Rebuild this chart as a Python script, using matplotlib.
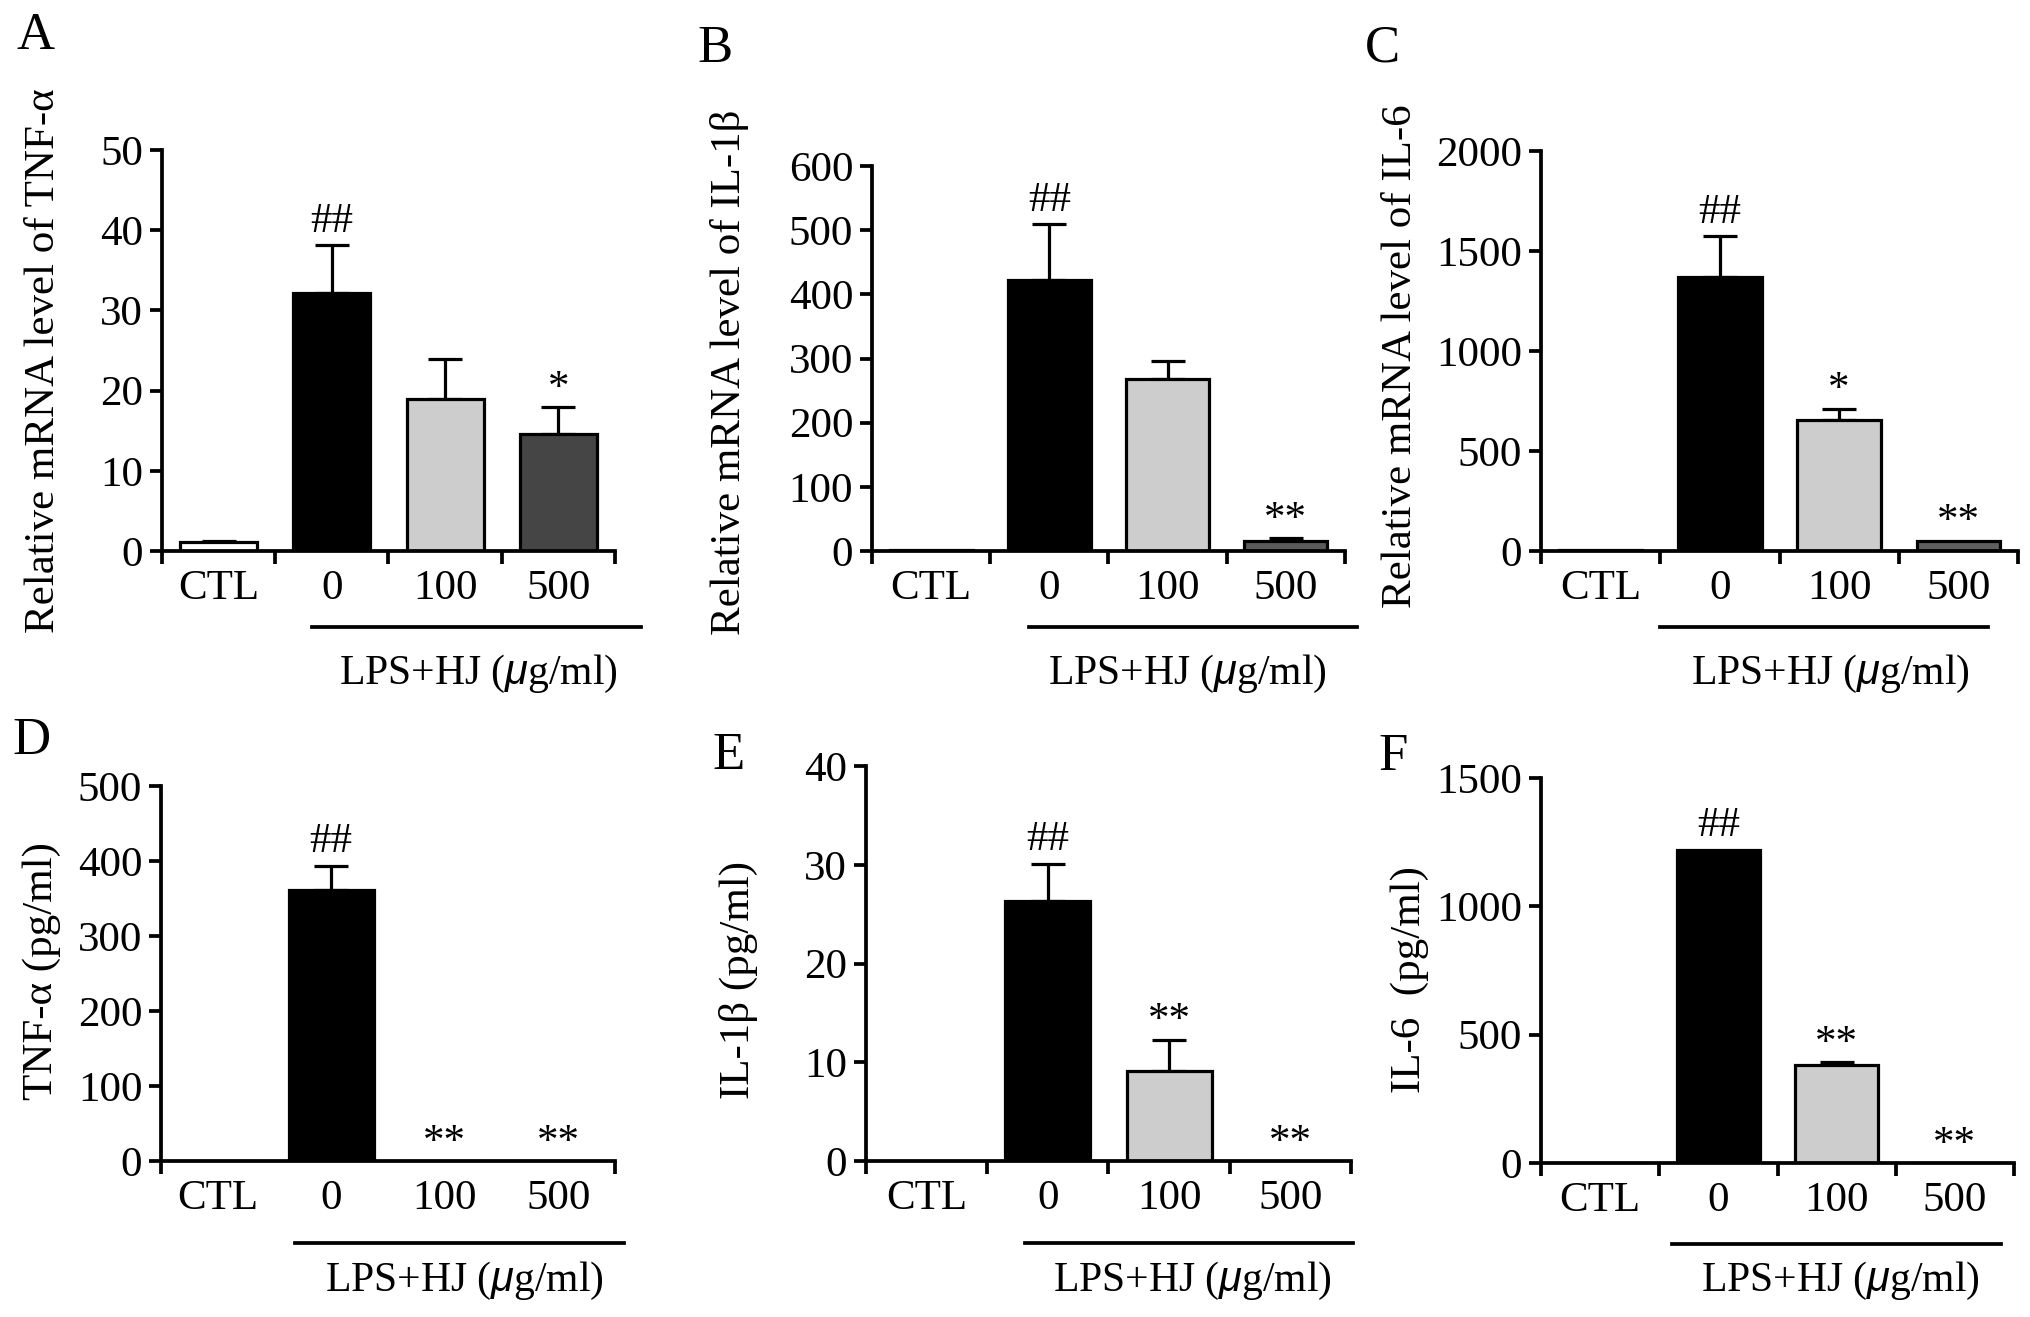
import matplotlib
matplotlib.use("Agg")
import matplotlib.pyplot as plt
from matplotlib.lines import Line2D

plt.rcParams['font.family'] = ['Liberation Serif', 'DejaVu Serif']
plt.rcParams['mathtext.fontset'] = 'custom'
plt.rcParams['mathtext.it'] = 'Liberation Sans:italic'
plt.rcParams['mathtext.rm'] = 'Liberation Serif'

### data

categories = ['CTL', '0', '100', '500']

tnf_mrna = [1.1, 32.2, 19.0, 14.6]
tnf_mrna_err = [0.2, 5.9, 4.9, 3.3]
tnf_mrna_marks = ['', '##', '', '*']

il1b_mrna = [2, 423, 268, 16]
il1b_mrna_err = [0, 86, 28, 3.5]
il1b_mrna_marks = ['', '##', '', '**']

il6_mrna = [5, 1371, 655, 52]
il6_mrna_err = [0, 202, 56, 0]
il6_mrna_marks = ['', '##', '*', '**']

tnf_elisa = [0, 362, 0, 0]
tnf_elisa_err = [0, 32, 0, 0]
tnf_elisa_marks = ['', '##', '**', '**']

il1b_elisa = [0, 26.3, 9.15, 0]
il1b_elisa_err = [0, 3.8, 3.15, 0]
il1b_elisa_marks = ['', '##', '**', '**']

il6_elisa = [0, 1220, 380, 0]
il6_elisa_err = [0, 0, 12, 0]
il6_elisa_marks = ['', '##', '**', '**']

W, H = 2031, 1317
fig = plt.figure(figsize=(W / 100, H / 100), dpi=100)

def px_to_fig(x, y):
    return x / W, 1 - y / H

# panel layout in pixels: axes left, right, top, bottom
panels = [
    dict(letter='A', vals=tnf_mrna, errs=tnf_mrna_err, marks=tnf_mrna_marks,
         ylabel='Relative mRNA level of TNF-α', ymax=50, step=10,
         box=(162, 615, 150, 551), colors=['white', 'black', '#cdcdcd', '#454545'],
         width=0.68, inner=True, lab=(36, 36), ylab=(63, 361),
         line=(312, 641, 627), note=(478, 674)),
    dict(letter='B', vals=il1b_mrna, errs=il1b_mrna_err, marks=il1b_mrna_marks,
         ylabel='Relative mRNA level of IL-1β', ymax=600, step=100,
         box=(872, 1345, 166, 551), colors=['white', 'black', '#cdcdcd', '#5a5a5a'],
         width=0.70, inner=True, lab=(715, 49), ylab=(749, 372),
         line=(1029, 1357, 627), note=(1187, 674)),
    dict(letter='C', vals=il6_mrna, errs=il6_mrna_err, marks=il6_mrna_marks,
         ylabel='Relative mRNA level of IL-6', ymax=2000, step=500,
         box=(1541, 2018, 151, 551), colors=['white', 'black', '#cdcdcd', '#5f5f5f'],
         width=0.70, inner=True, lab=(1382, 48), ylab=(1420, 356),
         line=(1660, 1988, 627), note=(1830, 674)),
    dict(letter='D', vals=tnf_elisa, errs=tnf_elisa_err, marks=tnf_elisa_marks,
         ylabel='TNF-α (pg/ml)', ymax=500, step=100,
         box=(161, 615, 786, 1161), colors=['white', 'black', '#cdcdcd', '#5f5f5f'],
         width=0.75, inner=False, lab=(32, 741), ylab=(61, 971),
         line=(295, 624, 1243), note=(464, 1281)),
    dict(letter='E', vals=il1b_elisa, errs=il1b_elisa_err, marks=il1b_elisa_marks,
         ylabel='IL-1β (pg/ml)', ymax=40, step=10,
         box=(866, 1351, 766, 1161), colors=['white', 'black', '#cdcdcd', '#5f5f5f'],
         width=0.70, inner=True, lab=(729, 756), ylab=(758, 980),
         line=(1025, 1353, 1243), note=(1192, 1281)),
    dict(letter='F', vals=il6_elisa, errs=il6_elisa_err, marks=il6_elisa_marks,
         ylabel='IL-6  (pg/ml)', ymax=1500, step=500,
         box=(1541, 2014, 778, 1163), colors=['white', 'black', '#cdcdcd', '#5f5f5f'],
         width=0.70, inner=True, lab=(1393, 757), ylab=(1429, 980),
         line=(1672, 2001, 1244), note=(1840, 1281)),
]

lw = 2.7
fs = 31
xs = list(range(len(categories)))

for p in panels:
    l, r, t, b = p['box']
    ax = fig.add_axes([l / W, 1 - b / H, (r - l) / W, (b - t) / H])
    ax.bar(xs, p['vals'], width=p['width'], color=p['colors'],
           edgecolor='black', linewidth=2.3, zorder=2)
    ex = [x for x, e in zip(xs, p['errs']) if e > 0]
    ey = [v for v, e in zip(p['vals'], p['errs']) if e > 0]
    ee = [e for e in p['errs'] if e > 0]
    if ex:
        ax.errorbar(ex, ey, yerr=[[0] * len(ee), ee], fmt='none', ecolor='black',
                    elinewidth=2.3, capsize=12, capthick=2.3, zorder=1)
    for x, v, e, m in zip(xs, p['vals'], p['errs'], p['marks']):
        if not m:
            continue
        off = 10 if m.startswith('#') else 6
        ax.annotate(m, (x, v + e), xytext=(0, off), textcoords='offset points',
                    ha='center', va='baseline', fontsize=31)

    ax.set_xlim(-0.5, 3.5)
    ax.set_ylim(0, p['ymax'])
    ax.set_yticks(range(0, p['ymax'] + 1, p['step']))
    if p['inner']:
        ax.set_xticks([-0.5, 0.5, 1.5, 2.5, 3.5])
    else:
        ax.set_xticks([-0.5, 3.5])
    ax.set_xticklabels([])
    ax.set_xticks(xs, minor=True)
    ax.set_xticklabels(categories, minor=True)
    ax.tick_params(axis='x', which='minor', length=0, pad=13, labelsize=fs)
    ax.tick_params(axis='x', which='major', length=9.5, width=lw, direction='out')
    ax.tick_params(axis='y', length=8.5, width=lw, pad=5, labelsize=fs, direction='out')

    for s in ['top', 'right']:
        ax.spines[s].set_visible(False)
    for s in ['left', 'bottom']:
        ax.spines[s].set_linewidth(lw)
        ax.spines[s].set_capstyle('projecting')

    ax.set_ylabel(p['ylabel'], fontsize=fs)
    ax.yaxis.set_label_coords((p['ylab'][0] - l) / (r - l), (b - p['ylab'][1]) / (b - t))

    # group bar and label under the LPS treated columns
    x0, x1, yl = p['line']
    fa, fy = px_to_fig(x0, yl)
    fb, _ = px_to_fig(x1, yl)
    fig.add_artist(Line2D([fa, fb], [fy, fy], color='black', linewidth=lw,
                          transform=fig.transFigure))
    nx, ny = px_to_fig(*p['note'])
    fig.text(nx, ny, r'LPS+HJ ($\mathit{μ}$g/ml)', ha='center', va='center', fontsize=30)

    lx, ly = px_to_fig(*p['lab'])
    fig.text(lx, ly, p['letter'], ha='center', va='center', fontsize=38)

fig.savefig('out.png', dpi=100)
